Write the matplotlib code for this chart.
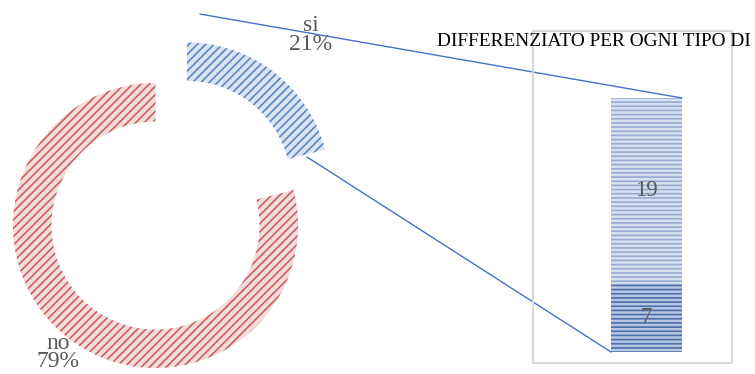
import numpy as np
import matplotlib.pyplot as plt
from matplotlib.patches import Rectangle, ConnectionPatch, Wedge

plt.rcParams['font.family'] = ['Liberation Serif', 'DejaVu Serif']
plt.rcParams['hatch.linewidth'] = 1.2

# doughnut data
pie_labels = ['no', 'si']
pie_values = [79, 21]
# breakdown of the "si" slice
bar_labels = ['7', '19']
bar_values = [7, 19]
title = 'DIFFERENZIATO PER OGNI TIPO DI'

W, H = 755, 374
fig = plt.figure(figsize=(W / 100, H / 100), dpi=100)

# doughnut axes, 1 unit = outer radius (142.5 px), center at px (155.5, 225.5)
R = 142.5
cx, cy = 155.5, 225.5
ax = fig.add_axes([0, 0, 1, 1])
ax.axis('off')

face = ['#f4dcdb', '#dae4f2']
hatchc = ['#c9605d', '#5a88c2']
explode = [0, 0.36]

wedges, _ = ax.pie(pie_values, colors=face, startangle=90, counterclock=True,
                   explode=explode, radius=1,
                   wedgeprops=dict(width=0.27, linewidth=0))
# hatch drawn on smaller pieces (big annulus wedges lose part of the hatch)
for w, c in zip(wedges, hatchc):
    steps = np.linspace(w.theta1, w.theta2, int(np.ceil((w.theta2 - w.theta1) / 60)) + 1)
    for t1, t2 in zip(steps[:-1], steps[1:]):
        ax.add_patch(Wedge(w.center, w.r, t1, t2, width=w.width,
                           facecolor='none', edgecolor=c, hatch='////',
                           linewidth=0))
ax.set_xlim(-cx / R, (W - cx) / R)
ax.set_ylim(-(H - cy) / R, cy / R)
ax.set_aspect('auto')

lab_pos = [(-0.684, -0.89), (1.09, 1.335)]
for lab, v, (x, y) in zip(pie_labels, pie_values, lab_pos):
    ax.text(x, y, f'{lab}\n{v}%', ha='center', va='center', fontsize=17,
            color='#595959', linespacing=0.85)

# bar frame
fig.patches.append(Rectangle((533 / W, 1 - 363 / H), 199 / W, 332 / H,
                             transform=fig.transFigure, fill=False,
                             edgecolor='#d9d9d9', linewidth=1.5))
fig.text(437 / W, 1 - 42 / H, title, ha='left', va='center', fontsize=13.95,
         color='black')

# stacked bar
bx = fig.add_axes([611 / W, 1 - 352 / H, 71 / W, 254 / H])
bx.set_xlim(-0.5, 0.5)
bx.set_ylim(0, sum(bar_values))
bx.axis('off')
bar_face = ['#b7c7e1', '#d6e0ef']
bar_hatch = ['#4a6fa8', '#95acd3']
bottom = 0
for lab, v, fc, hc in zip(bar_labels, bar_values, bar_face, bar_hatch):
    b = bx.bar(0, v, width=1, bottom=bottom, color=fc, linewidth=0)[0]
    b.set_edgecolor(hc)
    b.set_hatch('----')
    bx.text(0, bottom + v / 2, lab, ha='center', va='center', fontsize=16.5,
            color='#595959')
    bottom += v

# connector lines
for p_pie, p_bar in [((0.312, 1.484), (0.5, sum(bar_values))),
                     ((1.063, 0.481), (-0.5, 0))]:
    con = ConnectionPatch(xyA=p_pie, coordsA=ax.transData, xyB=p_bar,
                          coordsB=bx.transData, color='#4472c4', linewidth=1)
    fig.add_artist(con)

fig.savefig('out.png', dpi=100)
